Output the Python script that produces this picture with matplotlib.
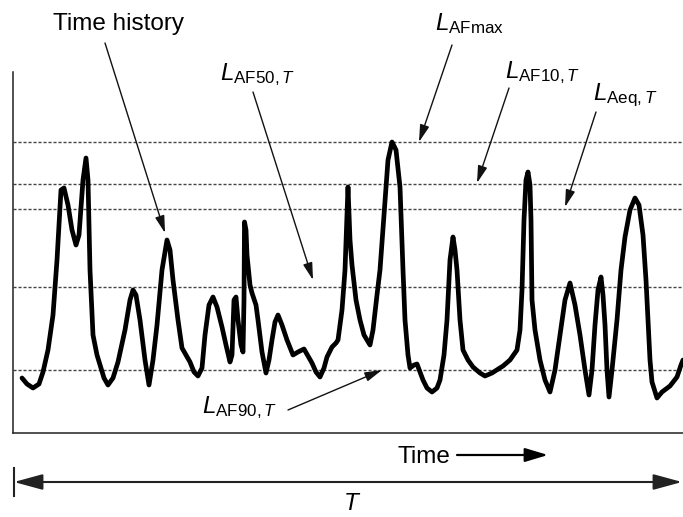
import matplotlib
matplotlib.use("Agg")
import matplotlib.pyplot as plt
import matplotlib.transforms as mtransforms
from matplotlib.lines import Line2D

plt.rcParams['font.family'] = ['Liberation Sans', 'DejaVu Sans']
plt.rcParams['mathtext.fontset'] = 'custom'
plt.rcParams['mathtext.rm'] = 'Liberation Sans'
plt.rcParams['mathtext.it'] = 'Liberation Sans:italic'
plt.rcParams['mathtext.bf'] = 'Liberation Sans:bold'

# ---- data (schematic time history; arbitrary units) ----
time = [22, 27, 33, 39, 43, 48, 53, 57, 61, 64, 68, 72, 76, 79, 83, 86, 88, 90, 93, 97,
        100, 104, 108, 113, 118, 125, 130, 133, 136, 140, 145, 149, 153, 157, 162, 167,
        170, 173, 178, 182, 186, 190, 194, 198, 202, 205, 209, 213, 217, 222, 226, 230,
        232, 234, 236, 238, 241, 243, 244, 244.5, 246, 247, 250, 252, 256, 258, 262, 266,
        269, 272, 275, 278, 282, 287, 293, 298, 304, 308, 312, 316, 320, 324, 327, 332,
        336, 338, 342, 345, 348, 350, 352, 356, 360, 364, 370, 373, 377, 380, 384, 388,
        392, 396, 400, 403, 405, 408, 410, 414, 417, 420, 423, 427, 432, 437, 440, 444,
        447, 450, 453, 455, 457, 460, 463, 468, 473, 480, 485, 492, 503, 510, 517, 520,
        522, 524, 526, 528, 530, 531, 532, 535, 540, 545, 550, 555, 560, 565, 570, 575,
        580, 585, 589, 592, 595, 598, 601, 603, 605, 607, 609, 612, 617, 621, 625, 630,
        635, 639, 643, 646, 648, 650, 652, 657, 662, 670, 677, 681, 683]
level = [55, 49, 45, 49, 61, 83, 118, 173, 243, 245, 228, 203, 188, 198, 253, 275, 253, 163, 98, 78,
         68, 55, 48, 55, 71, 103, 133, 143, 138, 113, 73, 48, 73, 108, 163, 193,
         183, 153, 113, 85, 78, 71, 61, 57, 65, 98, 128, 136, 126, 106, 88, 71,
         78, 133, 136, 113, 88, 81, 133, 211, 203, 178, 148, 140, 128, 113, 81, 60,
         73, 93, 111, 118, 108, 93, 78, 81, 84, 77, 70, 61, 56, 65, 76, 86,
         90, 93, 123, 163, 246, 193, 168, 133, 113, 98, 88, 103, 138, 163, 218, 273,
         291, 283, 246, 163, 113, 78, 65, 68, 69, 61, 53, 45, 41, 45, 53, 78,
         113, 173, 196, 183, 163, 113, 83, 73, 66, 60, 57, 60, 67, 73, 83, 103,
         143, 213, 253, 261, 248, 213, 133, 103, 73, 53, 41, 63, 98, 133, 150, 128,
         98, 63, 38, 63, 108, 143, 156, 138, 108, 63, 36, 63, 113, 163, 196, 223,
         235, 228, 198, 153, 113, 73, 51, 35, 41, 47, 56, 68, 73]

ref_names = ['LAFmax', 'LAF10', 'LAeq', 'LAF50', 'LAF90']
ref_levels = [291, 249, 224, 146, 63]

W, H = 683, 517
fig = plt.figure(figsize=(W / 100, H / 100), dpi=100)
fig.patch.set_facecolor('white')

# axes in pixel geometry: left 13, right 683, top 72, bottom 433
ax = fig.add_axes([13 / W, (H - 433) / H, (683 - 13) / W, (433 - 72) / H])
ax.set_xlim(13, 683)
ax.set_ylim(0, 361)
ax.set_facecolor('none')
for s in ['top', 'right']:
    ax.spines[s].set_visible(False)
for s in ['left', 'bottom']:
    ax.spines[s].set_linewidth(1.1)
    ax.spines[s].set_color('#222222')
ax.set_xticks([])
ax.set_yticks([])

for lv in ref_levels:
    ax.axhline(lv, color='#444444', lw=1.0, ls=(0, (2.2, 1.4)), zorder=1)

ax.plot(time, level, color='black', lw=3.4, solid_joinstyle='round',
        solid_capstyle='round', zorder=3, clip_on=False)

# figure pixel transform (origin top-left)
px = mtransforms.Affine2D().scale(1 / W, -1 / H).translate(0, 1) + fig.transFigure

FS = 17.5
arrow_kw = dict(arrowstyle='-|>,head_length=0.8,head_width=0.22', lw=1.0,
                color='#111111', shrinkA=0, shrinkB=0, mutation_scale=13)

labels = [
    ('Time history', 53, 30, (105, 43), (165, 200)),
    (r'$L_{\mathrm{AF50,}T}$', 220, 80, (253, 92), (313, 153)),
    (r'$L_{\mathrm{AFmax}}$', 435, 30, (452, 45), (419, 291)),
    (r'$L_{\mathrm{AF10,}T}$', 505, 78, (509, 88), (477, 250)),
    (r'$L_{\mathrm{Aeq,}T}$', 593, 100, (596, 112), (565, 226)),
    (r'$L_{\mathrm{AF90,}T}$', 202, 413, (288, 410), (382, 63)),
]
for txt, tx, ty, tail, tip in labels:
    fig.text(tx, ty, txt, transform=px, fontsize=FS, ha='left', va='baseline',
             color='black')
    ax.annotate('', xy=tip, xycoords='data', xytext=tail, textcoords=px,
                arrowprops=arrow_kw, annotation_clip=False)

# Time ---> label
fig.text(397, 463, 'Time', transform=px, fontsize=FS, ha='left', va='baseline')
ax.annotate('', xy=(548, 455), xycoords=px, xytext=(457, 455), textcoords=px,
            arrowprops=dict(arrowstyle='-|>,head_length=1.0,head_width=0.3',
                            lw=1.6, color='black', shrinkA=0, shrinkB=0,
                            mutation_scale=14), annotation_clip=False)

# T dimension arrow
ax.annotate('', xy=(682, 482), xycoords=px, xytext=(14, 482), textcoords=px,
            arrowprops=dict(arrowstyle='<|-|>,head_length=1.1,head_width=0.3',
                            lw=1.5, color='#222222', shrinkA=0, shrinkB=0,
                            mutation_scale=16), annotation_clip=False)
fig.add_artist(Line2D([14, 14], [468, 496], transform=px, color='#222222', lw=1.5))
fig.text(343, 510, r'$T$', transform=px, fontsize=FS, ha='left', va='baseline')

fig.savefig('out.png', dpi=100)
